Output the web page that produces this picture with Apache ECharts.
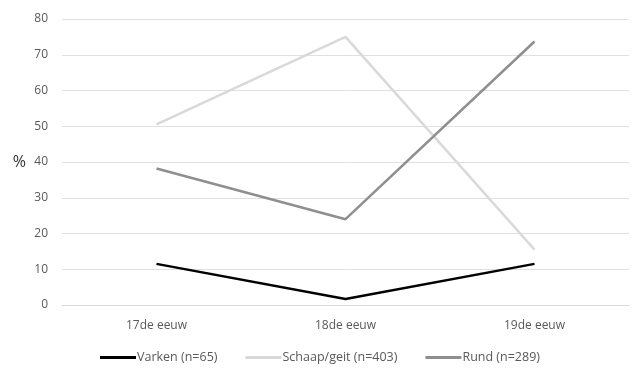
<!DOCTYPE html>
<html><head><meta charset="utf-8">
<script src="https://cdn.jsdelivr.net/npm/echarts@6/dist/echarts.min.js"></script>
<style>html,body{margin:0;padding:0;background:#fff}#c{width:640px;height:370px}</style>
</head><body><div id="c"></div>
<script>
const categories = ['17de eeuw', '18de eeuw', '19de eeuw'];
const varken = [11.5, 1.7, 11.5];
const schaap = [50.5, 75, 15.5];
const rund = [38.2, 24, 73.7];
const seriesNames = ['Varken (n=65)', 'Schaap/geit (n=403)', 'Rund (n=289)'];
const yTicks = [0, 80, 10];

const chart = echarts.init(document.getElementById('c'));
const font = 'Open Sans, Noto Sans, sans-serif';
function mk(name, data, color) {
  return { name: name, type: 'line', data: data, symbol: 'none', lineStyle: { color: color, width: 2.5 }, itemStyle: { color: color }, animation: false };
}
chart.setOption({
  animation: false,
  grid: { left: 62, right: 11, top: 19, bottom: 65 },
  xAxis: {
    type: 'category', data: categories, boundaryGap: true,
    axisLine: { lineStyle: { color: '#d9d9d9', width: 1 } },
    axisTick: { show: false },
    axisLabel: { color: '#595959', fontSize: 12, fontFamily: font, margin: 15 }
  },
  yAxis: {
    type: 'value', min: yTicks[0], max: yTicks[1], interval: yTicks[2],
    name: '%', nameLocation: 'middle', nameRotate: 0, nameGap: 36,
    nameTextStyle: { color: '#333333', fontSize: 16, fontFamily: font },
    axisLine: { show: false }, axisTick: { show: false },
    splitLine: { lineStyle: { color: '#e0e0e0', width: 1 } },
    axisLabel: { color: '#595959', fontSize: 12, fontFamily: font, margin: 14 }
  },
  legend: {
    bottom: 1, left: 'center', itemWidth: 36, itemHeight: 3, itemGap: 28,
    icon: 'rect',
    textStyle: { color: '#595959', fontSize: 12.5, fontFamily: font, padding: [0, 0, 0, -4] },
    data: seriesNames
  },
  series: [
    mk(seriesNames[0], varken, '#000000'),
    mk(seriesNames[1], schaap, '#d9d9d9'),
    mk(seriesNames[2], rund, '#8f8f8f')
  ]
});
</script></body></html>
